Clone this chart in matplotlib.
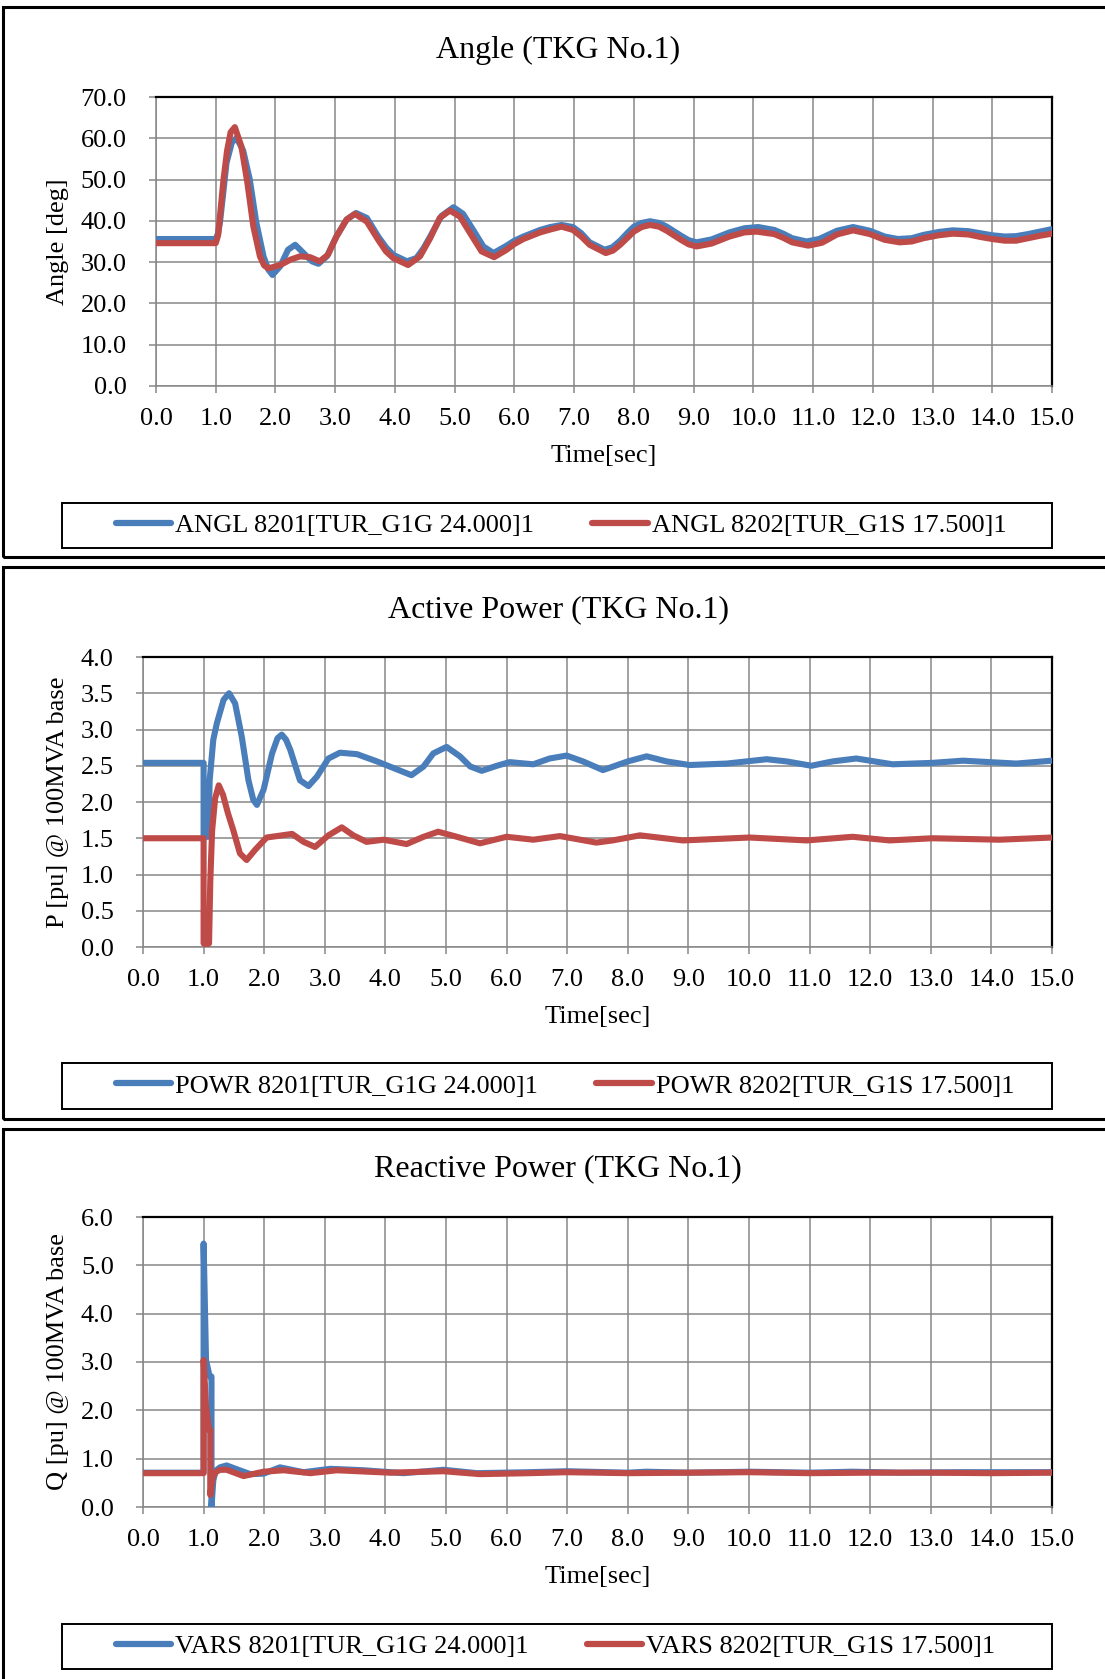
import matplotlib
matplotlib.use("Agg")
import matplotlib.pyplot as plt
from matplotlib.lines import Line2D
from matplotlib.patches import Rectangle
from matplotlib.ticker import MultipleLocator, FormatStrFormatter

W, H = 1105, 1679

BLUE = "#4A7EBB"
RED = "#BE4B48"
GRID = "#878787"

# ---- Angle (deg) ----
angle_t_g1g = [0.0, 1.0, 1.04, 1.07, 1.12, 1.18, 1.27, 1.35, 1.46, 1.57, 1.68, 1.8,
               1.88, 1.95, 2.08, 2.21, 2.33, 2.47, 2.61, 2.72, 2.86, 3.02, 3.19,
               3.35, 3.53, 3.72, 3.85, 3.97, 4.2, 4.36, 4.48, 4.59, 4.78, 4.98, 5.14,
               5.31, 5.48, 5.65, 5.87, 6.0, 6.15, 6.43, 6.6, 6.79, 6.98, 7.12, 7.26, 7.51,
               7.64, 7.77, 7.9, 8.0, 8.13, 8.27, 8.42, 8.55, 8.68, 8.8, 8.92, 9.05, 9.3, 9.6, 9.85, 10.08,
               10.35, 10.5, 10.65, 10.89, 11.1, 11.25, 11.4, 11.67, 11.95, 12.2, 12.42, 12.65, 12.85,
               13.1, 13.34, 13.6, 13.8, 14.0, 14.21, 14.4, 14.6, 14.8, 15.0]
angle_g1g = [35.6, 35.6, 37.0, 39.5, 46.0, 54.0, 59.0, 60.1, 57.0, 50.0, 39.5, 31.4,
             28.2, 26.9, 29.0, 33.0, 34.2, 32.2, 30.2, 29.6, 31.4, 36.2, 40.3,
             41.9, 40.7, 36.2, 33.6, 31.8, 30.2, 31.0, 33.4, 36.2, 41.2, 43.3, 41.7,
             37.8, 33.8, 32.2, 34.0, 35.2, 36.2, 37.8, 38.5, 39.0, 38.5, 37.0, 34.8, 33.0,
             33.6, 35.2, 37.2, 38.6, 39.5, 39.9, 39.5, 38.6, 37.4, 36.3, 35.3, 34.8, 35.5, 37.2, 38.2, 38.5,
             37.8, 36.9, 35.8, 35.0, 35.6, 36.6, 37.6, 38.5, 37.6, 36.2, 35.6, 35.8, 36.6,
             37.3, 37.7, 37.5, 37.0, 36.5, 36.2, 36.3, 36.8, 37.4, 38.0]
angle_t_g1s = [0.0, 1.0, 1.04, 1.07, 1.13, 1.19, 1.25, 1.32, 1.43, 1.53, 1.63, 1.74,
               1.81, 1.88, 2.08, 2.25, 2.41, 2.58, 2.74, 2.88, 3.02, 3.19, 3.33, 3.53,
               3.72, 3.85, 3.97, 4.22, 4.42, 4.59, 4.75, 4.92, 5.09, 5.26, 5.45,
               5.66, 5.87, 6.0, 6.15, 6.43, 6.6, 6.79, 6.98, 7.12, 7.26, 7.53,
               7.65, 7.77, 7.9, 8.0, 8.13, 8.27, 8.42, 8.55, 8.68, 8.8, 8.92, 9.05, 9.3, 9.6, 9.85, 10.05,
               10.35, 10.5, 10.65, 10.92, 11.15, 11.4, 11.67, 11.95, 12.2, 12.45, 12.65, 12.85,
               13.1, 13.34, 13.6, 13.8, 14.0, 14.21, 14.4, 14.6, 14.8, 15.0]
angle_g1s = [34.6, 34.6, 36.5, 41.0, 50.0, 57.0, 61.5, 62.7, 58.0, 49.2, 38.6, 31.4,
             29.2, 28.5, 29.3, 30.6, 31.4, 31.2, 30.2, 31.8, 36.2, 40.3, 41.7, 39.8,
             35.4, 32.6, 31.0, 29.3, 31.4, 35.8, 40.7, 42.5, 41.0, 37.0, 32.6,
             31.2, 33.0, 34.4, 35.6, 37.2, 37.9, 38.6, 37.8, 36.2, 34.2, 32.2,
             32.8, 34.2, 36.0, 37.4, 38.5, 39.0, 38.6, 37.6, 36.4, 35.3, 34.3, 33.8, 34.5, 36.2, 37.2, 37.4,
             36.8, 35.9, 34.8, 34.0, 34.7, 36.7, 37.7, 36.8, 35.4, 34.8, 35.0, 35.8,
             36.5, 36.9, 36.7, 36.1, 35.6, 35.2, 35.2, 35.8, 36.4, 36.9]

# ---- Active power (pu) ----
powr_t_g1g = [0.0, 1.0, 1.0, 1.08, 1.1, 1.16, 1.22, 1.33, 1.42, 1.52,
              1.63, 1.74, 1.82, 1.88, 1.99, 2.13, 2.22, 2.29, 2.36, 2.43, 2.59, 2.73, 2.87,
              3.06, 3.25, 3.53, 3.86, 4.19, 4.43, 4.63, 4.79, 5.01, 5.23,
              5.4, 5.59, 5.84, 6.05, 6.44, 6.71, 6.99, 7.26, 7.59, 8.0,
              8.31, 8.64, 9.02, 9.63, 10.29, 10.62, 11.03, 11.38, 11.77, 12.37,
              13.03, 13.53, 14.41, 15.0]
powr_g1g = [2.54, 2.54, 1.52, 1.52, 2.3, 2.86, 3.09, 3.41, 3.50, 3.36,
            2.90, 2.30, 2.03, 1.96, 2.17, 2.67, 2.88, 2.93, 2.86, 2.72, 2.30, 2.22, 2.35,
            2.60, 2.68, 2.66, 2.56, 2.45, 2.37, 2.49, 2.67, 2.76, 2.63,
            2.49, 2.43, 2.50, 2.55, 2.52, 2.60, 2.64, 2.56, 2.44, 2.56,
            2.63, 2.56, 2.51, 2.53, 2.59, 2.56, 2.50, 2.56, 2.60, 2.52,
            2.54, 2.57, 2.53, 2.57]
powr_t_g1s = [0.0, 1.0, 1.0, 1.05, 1.09, 1.11, 1.14, 1.19, 1.25, 1.32,
              1.4, 1.49, 1.6, 1.71, 1.85, 2.04, 2.21, 2.46, 2.65, 2.84,
              3.06, 3.28, 3.47, 3.69, 3.97, 4.35, 4.63, 4.87, 5.18, 5.56,
              6.0, 6.44, 6.88, 7.48, 7.75, 8.2, 8.91, 10.01, 10.95, 11.71,
              12.32, 13.03, 14.13, 15.0]
powr_g1s = [1.50, 1.50, 0.05, 0.03, 0.05, 0.9, 1.6, 2.05, 2.23, 2.10,
            1.85, 1.61, 1.29, 1.20, 1.34, 1.51, 1.53, 1.56, 1.45, 1.38,
            1.54, 1.65, 1.54, 1.45, 1.48, 1.42, 1.52, 1.59, 1.52, 1.43,
            1.52, 1.48, 1.53, 1.44, 1.47, 1.54, 1.47, 1.51, 1.47, 1.52,
            1.47, 1.50, 1.48, 1.51]

# ---- Reactive power (pu) ----
vars_t_g1g = [0.0, 1.0, 1.0, 1.04, 1.1, 1.13, 1.13, 1.16, 1.2, 1.27,
              1.38, 1.55, 1.77, 1.99, 2.26, 2.65, 3.09, 3.64, 4.3, 4.96,
              5.51, 6.38, 7.0, 8.0, 8.3, 9.0, 10.0, 11.0, 11.7, 12.5,
              13.5, 15.0]
vars_g1g = [0.71, 0.71, 5.45, 3.04, 2.70, 2.70, 0.0, 0.55, 0.75, 0.82,
            0.86, 0.78, 0.68, 0.69, 0.82, 0.72, 0.79, 0.76, 0.70, 0.77,
            0.70, 0.72, 0.74, 0.71, 0.73, 0.71, 0.73, 0.71, 0.73, 0.71,
            0.72, 0.72]
vars_t_g1s = [0.0, 1.0, 1.0, 1.04, 1.09, 1.11, 1.11, 1.15, 1.2, 1.27,
              1.38, 1.66, 1.99, 2.32, 2.76, 3.2, 4.08, 4.96, 5.56, 6.38,
              7.0, 8.0, 9.0, 10.0, 11.0, 12.0, 13.0, 14.0, 15.0]
vars_g1s = [0.70, 0.70, 3.04, 2.08, 1.59, 1.59, 0.25, 0.62, 0.72, 0.77,
            0.77, 0.64, 0.73, 0.76, 0.70, 0.76, 0.71, 0.74, 0.68, 0.70,
            0.72, 0.70, 0.71, 0.72, 0.70, 0.71, 0.71, 0.70, 0.71]

titles = ["Angle (TKG No.1)", "Active Power (TKG No.1)", "Reactive Power (TKG No.1)"]
ylabels = ["Angle [deg]", "P [pu] @ 100MVA base", "Q [pu] @ 100MVA base"]
legend_labels = [
    ["ANGL 8201[TUR_G1G 24.000]1", "ANGL 8202[TUR_G1S 17.500]1"],
    ["POWR 8201[TUR_G1G 24.000]1", "POWR 8202[TUR_G1S 17.500]1"],
    ["VARS 8201[TUR_G1G 24.000]1", "VARS 8202[TUR_G1S 17.500]1"],
]
series = [
    ((angle_t_g1g, angle_g1g), (angle_t_g1s, angle_g1s)),
    ((powr_t_g1g, powr_g1g), (powr_t_g1s, powr_g1s)),
    ((vars_t_g1g, vars_g1g), (vars_t_g1s, vars_g1s)),
]
y_limits = [(0, 70, 10), (0, 4, 0.5), (0, 6, 1)]


def fx(x):
    return x / W


def fy(y):
    return 1 - y / H


plt.rcParams['font.family'] = ['Liberation Serif', 'DejaVu Serif']
fig = plt.figure(figsize=(W / 100, H / 100), dpi=100)

# pixel layout of each panel: frame top/bottom, axes box, title, xlabel, legend box
panels = [
    dict(frame=(7, 557), ax=(156, 97, 1052, 386), title=50, xlab=456, leg=(503, 548)),
    dict(frame=(567, 1119), ax=(143, 657, 1052, 947), title=610, xlab=1017, leg=(1063, 1109)),
    dict(frame=(1129, 1700), ax=(143, 1217, 1052, 1507), title=1169, xlab=1577, leg=(1624, 1669)),
]

for i, p in enumerate(panels):
    ft, fb = p['frame']
    fig.patches.append(Rectangle((fx(3), fy(fb)), fx(1110 - 3), (fb - ft) / H,
                                 transform=fig.transFigure, fill=False,
                                 edgecolor='black', linewidth=2.2, zorder=0))

    l, t, r, b = p['ax']
    ax = fig.add_axes([fx(l), fy(b), (r - l) / W, (b - t) / H])
    (t1, v1), (t2, v2) = series[i]
    ax.plot(t1, v1, color=BLUE, lw=4.4, solid_capstyle='round', solid_joinstyle='round', zorder=3)
    ax.plot(t2, v2, color=RED, lw=4.4, solid_capstyle='round', solid_joinstyle='round', zorder=4)

    y0, y1, step = y_limits[i]
    ax.set_xlim(0, 15)
    ax.set_ylim(y0, y1)
    ax.xaxis.set_major_locator(MultipleLocator(1))
    ax.yaxis.set_major_locator(MultipleLocator(step))
    ax.xaxis.set_major_formatter(FormatStrFormatter('%.1f'))
    ax.yaxis.set_major_formatter(FormatStrFormatter('%.1f'))
    ax.grid(True, color=GRID, lw=1.1, zorder=1)
    ax.set_axisbelow(True)
    for side in ['left', 'bottom']:
        ax.spines[side].set_color(GRID)
        ax.spines[side].set_linewidth(1.1)
    for side in ['top', 'right']:
        ax.spines[side].set_color('black')
        ax.spines[side].set_linewidth(1.6)
    ax.tick_params(axis='x', direction='out', length=5, width=1.1, color=GRID,
                   labelsize=19, pad=10.5)
    ax.tick_params(axis='y', direction='out', length=5, width=1.1, color=GRID,
                   labelsize=19, pad=16)

    fig.text(fx(558), fy(p['title']), titles[i], ha='center', va='center', fontsize=23)
    fig.text(fx((l + r) / 2), fy(p['xlab']), "Time[sec]", ha='center', va='center', fontsize=19)
    fig.text(fx(58), fy((t + b) / 2), ylabels[i], ha='center', va='center',
             rotation=90, fontsize=19)

    lt, lb = p['leg']
    fig.patches.append(Rectangle((fx(62), fy(lb)), fx(1052 - 62), (lb - lt) / H,
                                 transform=fig.transFigure, fill=False,
                                 edgecolor='black', linewidth=1.4, zorder=0))
    handles = [Line2D([], [], color=BLUE, lw=4.5, solid_capstyle='round'),
               Line2D([], [], color=RED, lw=4.5, solid_capstyle='round')]
    fig.legend(handles, legend_labels[i], loc='center left',
               bbox_to_anchor=(fx(116), fy((lt + lb) / 2)), ncol=2, frameon=False,
               fontsize=19, handlelength=2.1, handletextpad=0.15, columnspacing=2.2,
               borderpad=0, borderaxespad=0)

fig.savefig('out.png', dpi=100)
